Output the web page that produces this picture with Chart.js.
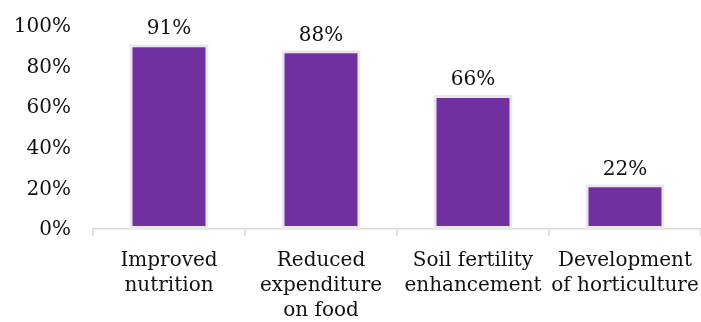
<!DOCTYPE html>
<html>
<head>
<meta charset="utf-8">
<script src="https://cdn.jsdelivr.net/npm/chart.js@4/dist/chart.umd.min.js"></script>
<style>
html,body{margin:0;padding:0;background:#fff;}
#wrap{width:701px;height:322px;position:relative;}
</style>
</head>
<body>
<div id="wrap"><canvas id="c"></canvas></div>
<script>
const categories = [
  ["Improved", "nutrition"],
  ["Reduced", "expenditure", "on food"],
  ["Soil fertility", "enhancement"],
  ["Development", "of horticulture"]
];
const values = [91, 88, 66, 22];
const yTicks = [0, 20, 40, 60, 80, 100];

const FONT = "'DejaVu Serif', serif";
const TEXT = '#111111';

const valueLabels = {
  id: 'valueLabels',
  afterDatasetsDraw(chart) {
    const ctx = chart.ctx;
    const meta = chart.getDatasetMeta(0);
    ctx.save();
    ctx.font = "20px " + FONT;
    ctx.fillStyle = TEXT;
    ctx.textAlign = 'center';
    ctx.textBaseline = 'bottom';
    meta.data.forEach((el, i) => {
      ctx.fillText(values[i] + '%', el.x, el.y - 5);
    });
    ctx.restore();
  }
};

new Chart(document.getElementById('c'), {
  type: 'bar',
  data: {
    labels: categories,
    datasets: [{
      data: values,
      backgroundColor: '#7030A0',
      borderColor: '#e8e8e8',
      borderWidth: 3,
      borderSkipped: false,
      barPercentage: 0.52,
      categoryPercentage: 1.0
    }]
  },
  options: {
    responsive: true,
    maintainAspectRatio: false,
    animation: false,
    layout: { padding: { top: 9, right: 0, left: 0, bottom: 0 } },
    plugins: { legend: { display: false }, tooltip: { enabled: false } },
    scales: {
      x: {
        offset: true,
        grid: { display: true, drawOnChartArea: false, drawTicks: true, tickLength: 7, color: '#d9d9d9', offset: true, lineWidth: 1.5 },
        border: { display: true, color: '#d9d9d9', width: 1.5 },
        ticks: { color: TEXT, font: { family: FONT, size: 20, lineHeight: 1.25 }, padding: 12, maxRotation: 0, autoSkip: false },
        afterFit(scale) { scale.height = 93; scale.paddingRight = 0; scale.paddingLeft = 0; }
      },
      y: {
        min: 0, max: 100,
        afterBuildTicks(scale) { scale.ticks = yTicks.map(v => ({ value: v })); },
        grid: { display: false },
        border: { display: false },
        ticks: { color: TEXT, font: { family: FONT, size: 20 }, padding: 14, labelOffset: 1, callback: v => v + '%' },
        afterFit(scale) { scale.width = 93; }
      }
    }
  },
  plugins: [valueLabels]
});
</script>
</body>
</html>
